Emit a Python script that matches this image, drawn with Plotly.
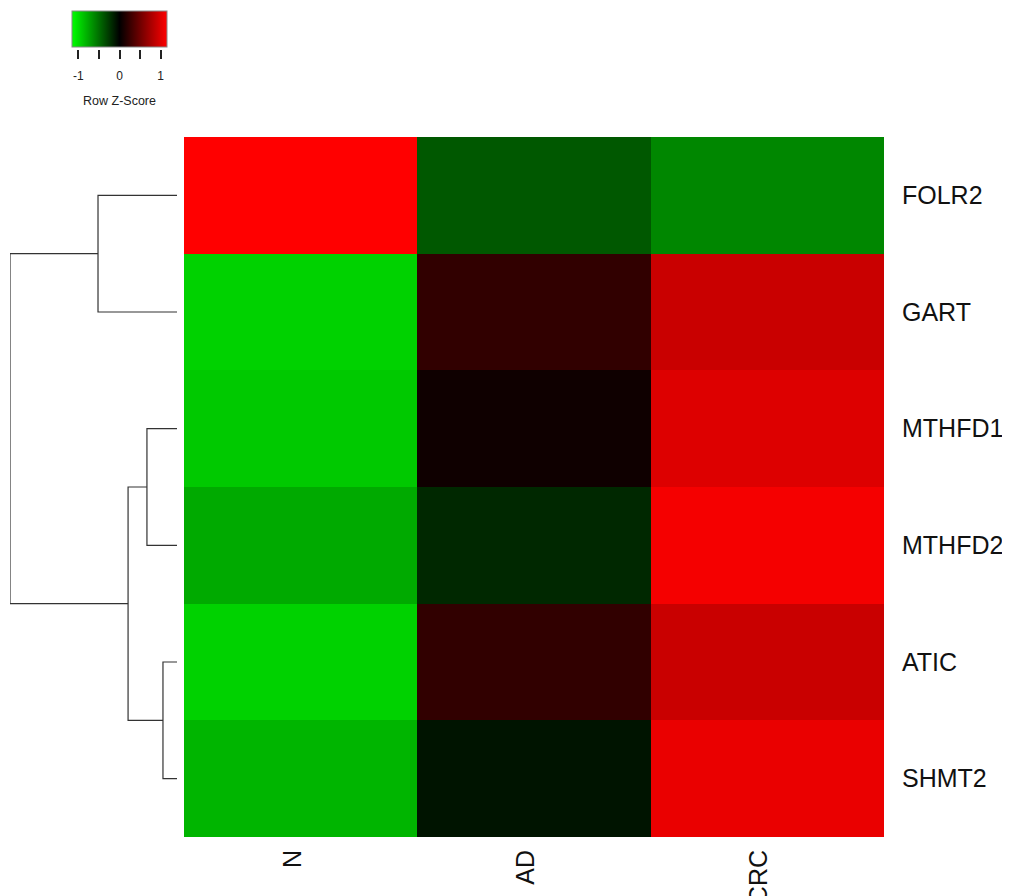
import plotly.graph_objects as go

# ---- data ----
genes = ["FOLR2", "GART", "MTHFD1", "MTHFD2", "ATIC", "SHMT2"]
samples = ["N", "AD", "CRC"]
z_N = [1.155, -0.95, -0.91, -0.77, -0.95, -0.82]
z_AD = [-0.40, 0.22, 0.07, -0.18, 0.22, -0.09]
z_CRC = [-0.61, 0.91, 1.00, 1.11, 0.91, 1.06]

# dendrogram merges (child a, child b, height; new node name)
merge_a = ["FOLR2", "MTHFD1", "ATIC", "m2", "m1"]
merge_b = ["GART", "MTHFD2", "SHMT2", "m3", "m4"]
merge_h = [0.473, 0.180, 0.084, 0.293, 1.0]
merge_name = ["m1", "m2", "m3", "m4", "m5"]

key_ticks = [-1, -0.5, 0, 0.5, 1]
key_ticktext = ["-1", "", "0", "", "1"]
zlim = 1.1547

# page body has an 8px margin; figure is sized to fit the 1010x896 window
OFF = 8
W, H = 1010 - OFF, 896 - OFF


def px_x(p):
    return (p - OFF) / W


def px_y(p):
    return 1 - (p - OFF) / H


hm_x0, hm_x1, hm_y0, hm_y1 = 184, 884, 137, 837
dg_x0, dg_x1 = 10, 177
key_x0, key_x1, key_y0, key_y1 = 72, 167, 11, 49

z = [[z_N[i], z_AD[i], z_CRC[i]] for i in range(len(genes))]
colorscale = [[0, "#00FF00"], [0.5, "#000000"], [1, "#FF0000"]]
font = "Liberation Sans"

fig = go.Figure()
fig.add_trace(go.Heatmap(
    z=z, x=samples, y=list(range(len(genes))),
    colorscale=colorscale, zmin=-zlim, zmax=zlim,
    hoverinfo="skip",
    colorbar=dict(
        orientation="h", lenmode="pixels", len=key_x1 - key_x0,
        thickness=key_y1 - key_y0 - 2,
        x=px_x(key_x0), xanchor="left", y=px_y(key_y0), yanchor="top",
        xpad=0, ypad=0, outlinewidth=1, outlinecolor="#888888",
        showticklabels=False, ticks="",
    ),
))

# dendrogram
pos = {g: (0.0, i) for i, g in enumerate(genes)}
xs, ys = [], []
for a, b, h, n in zip(merge_a, merge_b, merge_h, merge_name):
    ha, ya = pos[a]
    hb, yb = pos[b]
    xs += [ha, h, h, hb, None]
    ys += [ya, ya, yb, yb, None]
    pos[n] = (h, (ya + yb) / 2)

fig.add_trace(go.Scatter(x=xs, y=ys, mode="lines", xaxis="x2", yaxis="y2",
                         line=dict(color="#333333", width=1.2),
                         hoverinfo="skip", showlegend=False))

# axis carrying the colour-key ticks and title
fig.add_trace(go.Scatter(x=[None], y=[None], xaxis="x3", yaxis="y3",
                         mode="markers", hoverinfo="skip", showlegend=False))

fig.update_layout(
    width=W, height=H, margin=dict(l=0, r=0, t=0, b=0, autoexpand=False),
    paper_bgcolor="white", plot_bgcolor="white", showlegend=False,
    xaxis=dict(domain=[px_x(hm_x0), px_x(hm_x1)], tickangle=-90, showgrid=False,
               zeroline=False, ticks="", ticklabelstandoff=7, ticklabelshift=-8,
               automargin=False,
               tickfont=dict(family=font, size=25, color="#111")),
    yaxis=dict(domain=[px_y(hm_y1), px_y(hm_y0)], range=[5.5, -0.5],
               side="right", tickmode="array", tickvals=list(range(len(genes))),
               ticktext=genes, ticks="", showgrid=False, zeroline=False,
               ticklabelstandoff=17, automargin=False,
               tickfont=dict(family=font, size=25, color="#111")),
    xaxis2=dict(domain=[px_x(dg_x0), px_x(dg_x1)], range=[max(merge_h), 0],
                visible=False, anchor="y2", automargin=False),
    yaxis2=dict(domain=[px_y(hm_y1), px_y(hm_y0)], range=[5.5, -0.5],
                visible=False, anchor="x2", automargin=False),
    xaxis3=dict(domain=[px_x(key_x0), px_x(key_x1)], range=[-zlim, zlim],
                anchor="y3", showgrid=False, zeroline=False, showline=False,
                tickmode="array", tickvals=key_ticks, ticktext=key_ticktext,
                ticks="outside", ticklen=9, tickwidth=1.5, tickcolor="#222",
                ticklabelstandoff=7, automargin=False,
                tickfont=dict(family=font, size=12, color="#222"),
                title=dict(text="Row Z-Score", standoff=13,
                           font=dict(family=font, size=12.5, color="#222"))),
    yaxis3=dict(domain=[px_y(key_y1), px_y(key_y0)], visible=False,
                anchor="x3", fixedrange=True, automargin=False),
)

fig.write_html("out.html")
